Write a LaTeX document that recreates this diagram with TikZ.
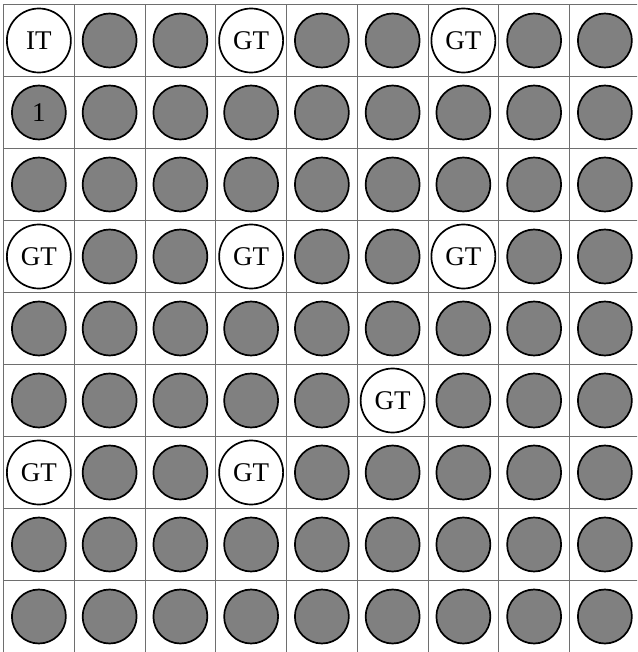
\documentclass[tikz,border=0pt]{standalone}
\usepackage{fontspec}
\setmainfont{Liberation Serif}
\usepackage{tikz}
\definecolor{rodGris}{HTML}{808080}
\definecolor{lineaGris}{HTML}{6E6E6E}

\begin{document}
\begin{tikzpicture}[x=70.75pt, y=-72pt, font=\fontsize{27}{30}\selectfont,
        rod/.style={circle, draw=black, fill=rodGris, line width=1.7pt,
            minimum size=54pt, inner sep=0pt},
        tube/.style={rod, fill=white, minimum size=64pt},
        rejilla/.style={lineaGris, line width=1pt}]
        \useasboundingbox (-3.5pt,4.5pt) rectangle (633.5pt,-647.5pt);
        \clip (-3.5pt,4.5pt) rectangle (633.5pt,-647.5pt);
        % cell grid
        \foreach \i in {0,...,9} {
            \draw[rejilla] (\i,0) -- (\i,9);
            \draw[rejilla] (0,\i) -- (9,\i);
        }
        % guide tubes and instrument tube
        \foreach \r/\c/\t in {0/0/IT, 0/3/GT, 0/6/GT, 3/0/GT, 3/3/GT, 3/6/GT,
                5/5/GT, 6/0/GT, 6/3/GT}
            \node[tube] (t\r\c) at (\c+0.5,\r+0.5) {\t};
        % fuel rods
        \node[rod] (r10) at (0.5,1.5) {1};
        \foreach \r/\cols in {0/{1,2,4,5,7,8}, 1/{1,...,8}, 2/{0,...,8},
                3/{1,2,4,5,7,8}, 4/{0,...,8}, 5/{0,1,2,3,4,6,7,8},
                6/{1,2,4,5,6,7,8}, 7/{0,...,8}, 8/{0,...,8}}
            \foreach \c in \cols
                \node[rod] (r\r\c) at (\c+0.5,\r+0.5) {};
    \end{tikzpicture}
\end{document}
